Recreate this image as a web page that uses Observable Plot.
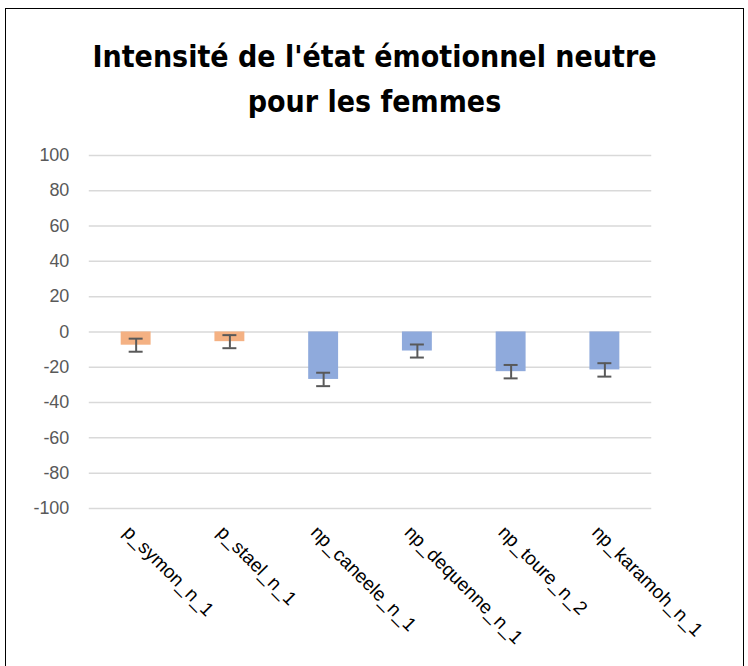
<!DOCTYPE html>
<html>
<head>
<meta charset="utf-8">
<script src="https://cdn.jsdelivr.net/npm/d3@7"></script>
<script src="https://cdn.jsdelivr.net/npm/@observablehq/plot@0.6"></script>
<style>
  html, body { margin: 0; padding: 0; background: #fff; }
  #frame { position: absolute; left: 5px; top: 8px; width: 739px; height: 670px; border: 1.5px solid #000; box-sizing: border-box; overflow: hidden; }
  #title { position: absolute; top: 25px; left: 0; width: 100%; text-align: center; font-family: "Liberation Sans Narrow", "DejaVu Sans Condensed", "Liberation Sans", sans-serif; font-weight: bold; font-size: 30px; line-height: 45px; color: #000; }
  #chart { position: absolute; top: 122px; left: 0; }
</style>
</head>
<body>
<div id="frame">
  <div id="title">Intensité de l'état émotionnel neutre<br>pour les femmes</div>
  <div id="chart"></div>
</div>
<script>
const categories = ["p_symon_n_1", "p_stael_n_1", "np_caneele_n_1", "np_dequenne_n_1", "np_toure_n_2", "np_karamoh_n_1"];
const groups = ["p", "p", "np", "np", "np", "np"];
const values = [-7.5, -5.5, -26.9, -10.8, -22.5, -21.5];
const errors = [3.7, 3.7, 3.8, 3.7, 3.8, 3.8];
const yTicks = [-100, -80, -60, -40, -20, 0, 20, 40, 60, 80, 100];

const data = categories.map((c, i) => ({cat: c, group: groups[i], value: values[i], lo: values[i] - errors[i], hi: values[i] + errors[i]}));

const chart = Plot.plot({
  width: 739,
  height: 536,
  marginTop: 24,
  marginBottom: 158,
  marginLeft: 83,
  marginRight: 92,
  style: {fontFamily: "'Liberation Sans', sans-serif", background: "transparent"},
  x: {domain: categories, padding: 0, axis: null},
  y: {domain: [-100, 100], axis: null},
  color: {domain: ["p", "np"], range: ["#F4B183", "#8FAADC"]},
  marks: [
    Plot.ruleY(yTicks, {stroke: "#d9d9d9", strokeWidth: 1.5}),
    Plot.barY(data, {x: "cat", y: "value", fill: "group", insetLeft: 32, insetRight: 32}),
    Plot.ruleX(data, {x: "cat", y1: "lo", y2: "hi", stroke: "#595959", strokeWidth: 2}),
    Plot.tickY(data, {x: "cat", y: "lo", stroke: "#595959", strokeWidth: 2, insetLeft: 40, insetRight: 40}),
    Plot.tickY(data, {x: "cat", y: "hi", stroke: "#595959", strokeWidth: 2, insetLeft: 40, insetRight: 40}),
    Plot.text(yTicks, {y: d => d, text: d => String(d), frameAnchor: "left", textAnchor: "end", dx: -20, fontSize: 18, fill: "#595959"}),
    Plot.text(categories, {x: d => d, text: d => d, frameAnchor: "bottom", rotate: 45, textAnchor: "start", lineAnchor: "bottom", dx: -14, dy: 25, fontSize: 19, fill: "#000"})
  ]
});
document.getElementById("chart").appendChild(chart);
</script>
</body>
</html>
